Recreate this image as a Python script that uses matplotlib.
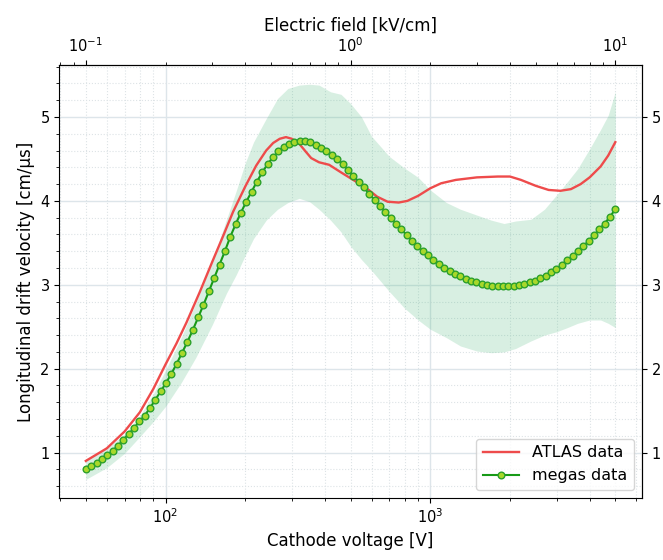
import numpy as np
import matplotlib
matplotlib.use("Agg")
import matplotlib.pyplot as plt
from matplotlib.ticker import AutoMinorLocator

# megas data: 100 log-spaced cathode voltages between 50 V and 5000 V
megas_v = np.geomspace(50, 5000, 100)
megas_vel = [
    0.80, 0.84, 0.88, 0.92, 0.97, 1.02, 1.08, 1.15, 1.22, 1.29,
    1.37, 1.44, 1.53, 1.63, 1.73, 1.83, 1.94, 2.06, 2.19, 2.32,
    2.46, 2.61, 2.76, 2.92, 3.08, 3.24, 3.40, 3.57, 3.72, 3.86,
    3.99, 4.11, 4.23, 4.34, 4.44, 4.52, 4.59, 4.64, 4.68, 4.70,
    4.71, 4.71, 4.70, 4.67, 4.63, 4.59, 4.55, 4.50, 4.44, 4.37,
    4.30, 4.23, 4.16, 4.08, 4.01, 3.94, 3.87, 3.80, 3.73, 3.66,
    3.59, 3.52, 3.46, 3.40, 3.35, 3.30, 3.25, 3.20, 3.16, 3.13,
    3.10, 3.07, 3.05, 3.03, 3.01, 3.00, 2.99, 2.99, 2.98, 2.98,
    2.99, 3.00, 3.01, 3.03, 3.05, 3.08, 3.11, 3.15, 3.19, 3.24,
    3.29, 3.34, 3.40, 3.46, 3.52, 3.59, 3.66, 3.73, 3.81, 3.90,
]

# ATLAS reference data
atlas_v = [50, 60, 70, 80, 90, 100, 110, 120, 135, 150, 165, 180, 200, 220,
           240, 255, 270, 285, 300, 320, 340, 355, 380, 415, 460, 530, 580,
           630, 690, 760, 820, 900, 1000, 1100, 1250, 1500, 1800, 2000, 2200,
           2500, 2800, 3100, 3400, 3700, 4000, 4400, 4700, 5000]
atlas_vel = [0.90, 1.05, 1.25, 1.48, 1.76, 2.05, 2.30, 2.55, 2.92, 3.27, 3.58,
             3.87, 4.17, 4.42, 4.60, 4.69, 4.74, 4.76, 4.74, 4.68, 4.58, 4.51,
             4.46, 4.43, 4.34, 4.22, 4.14, 4.05, 3.99, 3.98, 4.00, 4.06, 4.15,
             4.21, 4.25, 4.28, 4.29, 4.29, 4.25, 4.18, 4.13, 4.12, 4.14, 4.20,
             4.28, 4.41, 4.54, 4.70]

# uncertainty band of megas data
band_v = [50, 60, 70, 80, 90, 100, 115, 130, 150, 170, 185, 200, 215, 240,
          265, 290, 320, 350, 380, 420, 460, 500, 550, 600, 700, 800, 900,
          1000, 1150, 1300, 1500, 1700, 1900, 2100, 2400, 2700, 3000, 3300,
          3600, 4000, 4400, 4700, 5000]
band_hi = [0.92, 1.05, 1.22, 1.44, 1.70, 1.98, 2.38, 2.78, 3.27, 3.78, 4.12,
           4.45, 4.70, 4.98, 5.22, 5.34, 5.38, 5.39, 5.38, 5.30, 5.27, 5.16,
           5.00, 4.77, 4.53, 4.39, 4.28, 4.13, 3.98, 3.90, 3.83, 3.77, 3.73,
           3.76, 3.78, 3.90, 4.07, 4.23, 4.38, 4.62, 4.85, 5.02, 5.30]
band_lo = [0.68, 0.82, 0.99, 1.19, 1.37, 1.55, 1.84, 2.13, 2.52, 2.90, 3.12,
           3.35, 3.55, 3.77, 3.90, 3.98, 4.03, 3.99, 3.90, 3.77, 3.63, 3.46,
           3.30, 3.17, 2.92, 2.72, 2.58, 2.47, 2.37, 2.27, 2.21, 2.19, 2.20,
           2.24, 2.33, 2.40, 2.44, 2.49, 2.54, 2.58, 2.58, 2.54, 2.49]

gap_cm = 0.5  # kV/cm = V / 500

fig, ax = plt.subplots(figsize=(6.63, 5.6), dpi=100)
fig.subplots_adjust(left=0.0895, right=0.968, top=0.884, bottom=0.111)

ax.fill_between(band_v, band_lo, band_hi, color="#3cb371", alpha=0.2,
                linewidth=0)
ax.plot(atlas_v, atlas_vel, color="#ee4b4b", lw=1.7, label="ATLAS data")
ax.plot(megas_v, megas_vel, color="#179a17", lw=1.5, marker="o", ms=4.8,
        mfc="#a8d82a", mec="#2ca02c", mew=1.0, label="megas data")

ax.set_xscale("log")
ax.set_ylim(0.46, 5.62)
ax.yaxis.set_minor_locator(AutoMinorLocator(5))
ax.grid(which="major", color="#dde5ea", lw=1.0)
ax.grid(which="minor", color="#dde3e6", lw=0.8, ls=":")
ax.set_axisbelow(True)

ax.set_xlabel("Cathode voltage [V]", fontsize=12)
ax.set_ylabel("Longitudinal drift velocity [cm/μs]", fontsize=12)
ax.tick_params(labelsize=10.5)

top = ax.secondary_xaxis("top", functions=(lambda v: v / 1000 / gap_cm,
                                           lambda e: e * 1000 * gap_cm))
top.set_xlabel("Electric field [kV/cm]", fontsize=12)
top.tick_params(labelsize=10.5)

right = ax.secondary_yaxis("right")
right.tick_params(labelsize=10.5)

ax.legend(loc="lower right", fontsize=11.5, handlelength=2.3)

fig.savefig("out.png", dpi=100)
